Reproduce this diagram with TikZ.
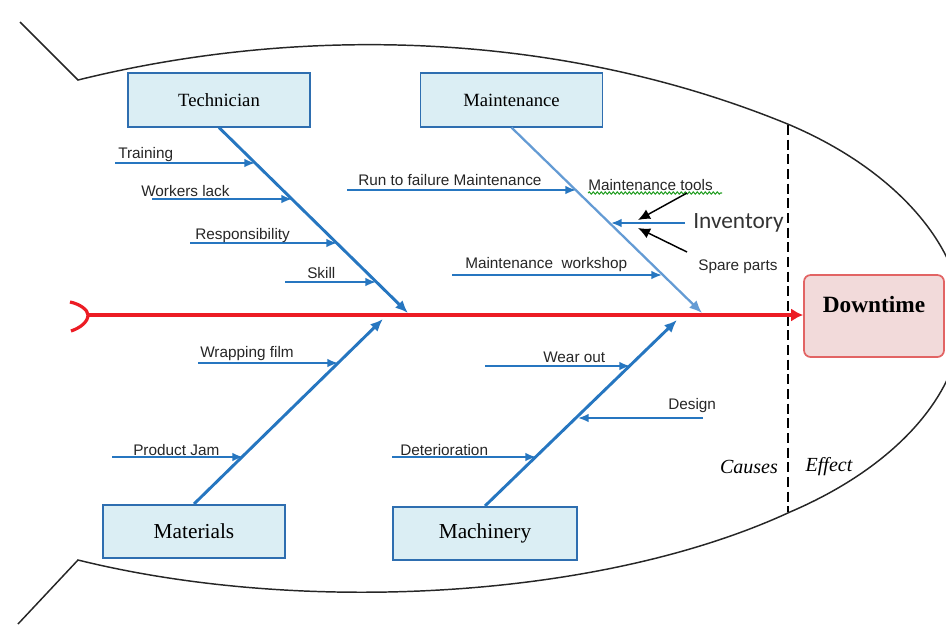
\documentclass[tikz,border=0pt]{standalone}
\usepackage{fontspec}
\setmainfont{Liberation Serif}
\setsansfont{Liberation Sans}
\newfontfamily\calib{Carlito}
\usetikzlibrary{arrows.meta,decorations.pathmorphing}
\definecolor{boneblue}{RGB}{38,118,192}
\definecolor{lightbone}{RGB}{100,155,212}
\definecolor{boxfill}{RGB}{219,238,244}
\definecolor{boxborder}{RGB}{46,110,176}
\definecolor{effill}{RGB}{242,218,218}
\definecolor{efborder}{RGB}{226,100,100}
\definecolor{spinered}{RGB}{236,28,36}
\definecolor{spellgreen}{RGB}{40,160,40}
\begin{document}
\begin{tikzpicture}[x=0.75pt,y=-0.75pt,
  catbox/.style={draw=boxborder, fill=boxfill, line width=1.3pt, minimum width=136.5pt, minimum height=40pt, inner sep=0pt},
  bone/.style={draw=boneblue, line width=2.2pt, -{Latex[length=9.5pt,width=8pt]}},
  lbone/.style={draw=lightbone, line width=1.7pt, -{Latex[length=9.5pt,width=8pt]}},
  sub/.style={draw=boneblue, line width=1.4pt, -{Latex[length=8pt,width=6.5pt]}},
  blk/.style={draw=black, line width=1.1pt, -{Latex[length=9pt,width=8pt]}},
  lab/.style={font=\sffamily\fontsize{11.5}{13}\selectfont, inner sep=0pt, text=black!85, anchor=base west},
  outline/.style={draw=black!85, line width=1.1pt},
  spine/.style={draw=spinered, line width=3pt, -{Latex[length=9pt,width=10pt]}},
  sep/.style={draw=black, line width=1.1pt, dash pattern=on 7.5pt off 3.5pt},
  ce/.style={font=\itshape\fontsize{15}{17}\selectfont, inner sep=0pt}
]
\useasboundingbox (0,0) rectangle (946,626);
\clip (0,0) rectangle (946,626);

% fish outline
\draw[outline] (20,22) -- (78,80) .. controls (300,25) and (560,30) .. (790,125)
  .. controls (900,172) and (962,250) .. (962,318)
  .. controls (962,390) and (900,465) .. (790,512)
  .. controls (600,600) and (300,615) .. (78,560) -- (18,624);

% separator causes / effect
\coordinate (sepT) at (788,125);
\coordinate (sepB) at (788,512);
\draw[sep] (sepT) -- (sepB);

% category boxes
\node[catbox, font=\fontsize{14}{16}\selectfont] (tech) at (219,100) {Technician};
\node[catbox, font=\fontsize{14}{16}\selectfont] (maint) at (511.5,100) {Maintenance};
\node[catbox, font=\fontsize{16}{18}\selectfont] (mat) at (194,531.5) {Materials};
\node[catbox, font=\fontsize{16}{18}\selectfont, minimum width=138pt] (mach) at (485,533.5) {Machinery};

% effect box
\node[draw=efborder, fill=effill, line width=1.3pt, rounded corners=5pt, minimum width=105pt, minimum height=61.5pt, inner sep=0pt, text depth=18pt, font=\bfseries\fontsize{17.5}{20}\selectfont] (down) at (874,316) {Downtime};

% spine
\coordinate (sp0) at (88,315);
\draw[draw=spinered, line width=2.4pt] (70,302) .. controls (80,304) and (88,310) .. (sp0) .. controls (88,322) and (80,328) .. (71,331);
\draw[spine] (sp0) -- (down.west |- sp0);

% bones
\coordinate (tEnd) at (408,313);
\coordinate (mEnd) at (702,313);
\coordinate (matEnd) at (383,319);
\coordinate (machEnd) at (677,320);
\draw[bone] (tech.south) -- (tEnd);
\draw[lbone] (maint.south) -- (mEnd);
\draw[bone] (mat.north) -- (matEnd);
\draw[bone] (mach.north) -- (machEnd);

% Technician causes
\coordinate (a1) at (115,163); \coordinate (b1) at (255,163);
\coordinate (a2) at (152,199); \coordinate (b2) at (292,199);
\coordinate (a3) at (190,243); \coordinate (b3) at (337,243);
\coordinate (a4) at (285,282); \coordinate (b4) at (376,282);
\draw[sub] (a1) -- (b1);
\draw[sub] (a2) -- (b2);
\draw[sub] (a3) -- (b3);
\draw[sub] (a4) -- (b4);
\node[lab] (l1) at (118,158) {Training};
\node[lab] (l2) at (141,196) {Workers lack};
\node[lab] (l3) at (195,239) {Responsibility};
\node[lab] (l4) at (307,278) {Skill};

% Maintenance causes
\coordinate (a5) at (347,190); \coordinate (b5) at (576,190);
\coordinate (a6) at (452,275); \coordinate (b6) at (662,275);
\coordinate (a7) at (685,223); \coordinate (b7) at (611,223);
\draw[sub] (a5) -- (b5);
\draw[sub] (a6) -- (b6);
\draw[sub] (a7) -- (b7);
\node[lab] (l5) at (358,185) {Run to failure Maintenance};
\node[lab] (l6) at (465,268) {Maintenance\ \ workshop};
\node[lab] (l7) at (588,190) {Maintenance tools};
\draw[spellgreen, line width=0.8pt, decorate, decoration={snake, amplitude=0.8pt, segment length=3pt}] (l7.base west) ++(0,3) -- ++(134,0);
\node[lab] (l8) at (698,270) {Spare parts};
\node[font=\calib\fontsize{17.5}{20}\selectfont, inner sep=0pt, anchor=west, text=black!80] (inv) at (693,223) {Inventory};
\coordinate (k1) at (687,193); \coordinate (k2) at (638,220);
\coordinate (k3) at (687,252); \coordinate (k4) at (638,228);
\draw[blk] (k1) -- (k2);
\draw[blk] (k3) -- (k4);

% Materials causes
\coordinate (a9) at (198,363); \coordinate (b9) at (338,363);
\coordinate (a10) at (112,457); \coordinate (b10) at (243,457);
\draw[sub] (a9) -- (b9);
\draw[sub] (a10) -- (b10);
\node[lab] (l9) at (200,357) {Wrapping film};
\node[lab] (l10) at (133,455) {Product Jam};

% Machinery causes
\coordinate (a11) at (485,366); \coordinate (b11) at (630,366);
\coordinate (a12) at (703,418); \coordinate (b12) at (578,418);
\coordinate (a13) at (392,457); \coordinate (b13) at (536,457);
\draw[sub] (a11) -- (b11);
\draw[sub] (a12) -- (b12);
\draw[sub] (a13) -- (b13);
\node[lab] (l11) at (543,362) {Wear out};
\node[lab] (l12) at (668,409) {Design};
\node[lab] (l13) at (400,455) {Deterioration};

% causes / effect
\node[ce] (causes) at (749,467) {Causes};
\node[ce] (effect) at (829,467) {Effect};
\end{tikzpicture}
\end{document}
